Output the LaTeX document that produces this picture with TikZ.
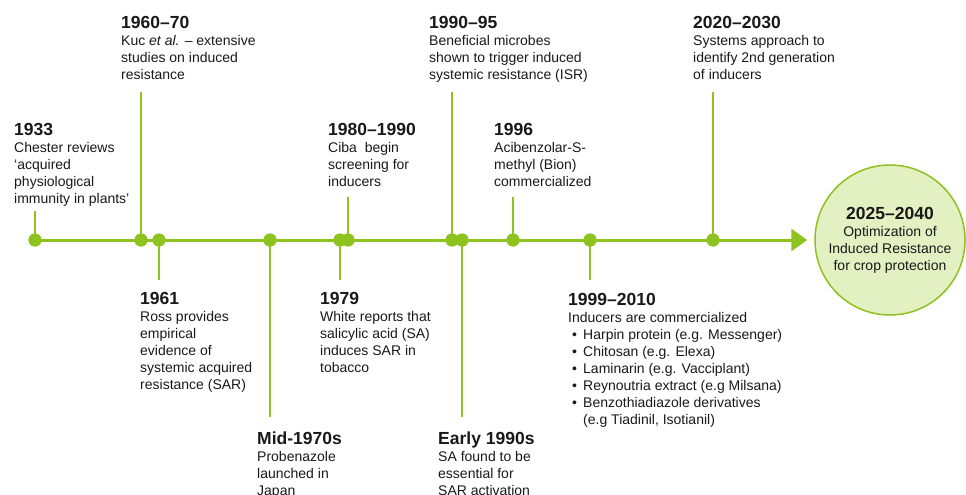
\documentclass[tikz,border=0pt]{standalone}
\usepackage{fontspec}
\setmainfont{Liberation Sans}
\usepackage{xcolor}
\usetikzlibrary{arrows.meta}

\definecolor{leaf}{RGB}{141,194,31}
\definecolor{leaflight}{RGB}{226,240,194}

% year heading and bullet item inside the event boxes
\newcommand{\yr}[1]{{\bfseries\fontsize{17.5}{17}\selectfont #1}}
\newcommand{\itm}[1]{\makebox[15pt][l]{\hspace{4pt}•}#1}

\begin{document}
\begin{tikzpicture}[
    x=1pt, y=-1pt,
    dot/.style={circle,fill=leaf,minimum size=13pt,inner sep=0pt},
    event/.style={anchor=north west,align=left,inner sep=0pt,text=black!90,
        font=\fontsize{14}{17}\selectfont},
    stem/.style={draw=leaf,line width=2pt},
    axis/.style={draw=leaf,line width=3pt,shorten >=7pt,
        -{Triangle[length=16pt,width=22pt]}},
    goal/.style={circle,draw=leaf,line width=1.5pt,fill=leaflight,
        minimum size=150pt,inner sep=0pt,align=center,text=black!90,
        font=\fontsize{14}{17}\selectfont}
]
\useasboundingbox (0,0) rectangle (966,495);

% end of the line
\node[goal] (goal) at (890,240)
    {\yr{2025–2040}\\Optimization of\\Induced Resistance\\for crop protection};

% dots on the line
\node[dot] (d1933) at (35,240) {};
\node[dot] (d1960) at (141,240) {};
\node[dot] (d1961) at (159,240) {};
\node[dot] (d1975) at (270,240) {};
\node[dot] (d1979) at (340,240) {};
\node[dot] (d1980) at (348,240) {};
\node[dot] (d1990) at (452,240) {};
\node[dot] (d1991) at (462,240) {};
\node[dot] (d1996) at (513,240) {};
\node[dot] (d1999) at (590,240) {};
\node[dot] (d2020) at (713,240) {};

% where the stems stop
\coordinate (s1933) at (35,211);
\coordinate (s1960) at (141,92);
\coordinate (s1961) at (159,280);
\coordinate (s1975) at (270,417);
\coordinate (s1979) at (340,280);
\coordinate (s1980) at (348,197);
\coordinate (s1990) at (452,92);
\coordinate (s1991) at (462,417);
\coordinate (s1996) at (513,197);
\coordinate (s1999) at (590,280);
\coordinate (s2020) at (713,92);

% events above the line
\node[event] (e1933) at (14,123)
    {\yr{1933}\\Chester reviews\\‘acquired\\physiological\\immunity in plants’};
\node[event] (e1960) at (121,16)
    {\yr{1960–70}\\Kuc \textit{et al.} – extensive\\studies on induced\\resistance};
\node[event] (e1980) at (328,123)
    {\yr{1980–1990}\\Ciba~ begin\\screening for\\inducers};
\node[event] (e1990) at (429,16)
    {\yr{1990–95}\\Beneficial microbes\\shown to trigger induced\\systemic resistance (ISR)};
\node[event] (e1996) at (494,123)
    {\yr{1996}\\Acibenzolar-S-\\methyl (Bion)\\commercialized};
\node[event] (e2020) at (693,16)
    {\yr{2020–2030}\\Systems approach to\\identify 2nd generation\\of inducers};

% events below the line
\node[event] (e1961) at (140,292)
    {\yr{1961}\\Ross provides\\empirical\\evidence of\\systemic acquired\\resistance (SAR)};
\node[event] (e1979) at (320,292)
    {\yr{1979}\\White reports that\\salicylic acid (SA)\\induces SAR in\\tobacco};
\node[event] (e1999) at (568,293)
    {\yr{1999–2010}\\Inducers are commercialized\\
     \itm{Harpin protein (e.g. Messenger)}\\
     \itm{Chitosan (e.g. Elexa)}\\
     \itm{Laminarin (e.g. Vacciplant)}\\
     \itm{Reynoutria extract (e.g Milsana)}\\
     \itm{Benzothiadiazole derivatives}\\
     \hspace*{15pt}(e.g Tiadinil, Isotianil)};
\node[event] (e1975) at (257,432)
    {\yr{Mid-1970s}\\Probenazole\\launched in\\Japan};
\node[event] (e1991) at (438,432)
    {\yr{Early 1990s}\\SA found to be\\essential for\\SAR activation};

% stems
\draw[stem] (d1933.center) -- (s1933);
\draw[stem] (d1960.center) -- (s1960);
\draw[stem] (d1961.center) -- (s1961);
\draw[stem] (d1975.center) -- (s1975);
\draw[stem] (d1979.center) -- (s1979);
\draw[stem] (d1980.center) -- (s1980);
\draw[stem] (d1990.center) -- (s1990);
\draw[stem] (d1991.center) -- (s1991);
\draw[stem] (d1996.center) -- (s1996);
\draw[stem] (d1999.center) -- (s1999);
\draw[stem] (d2020.center) -- (s2020);

% the line itself, dots drawn again on top
\draw[axis] (d1933.center) -- (goal);
\foreach \d in {d1933,d1960,d1961,d1975,d1979,d1980,d1990,d1991,d1996,d1999,d2020}
    \fill[leaf] (\d) circle (6.5pt);
\end{tikzpicture}
\end{document}
